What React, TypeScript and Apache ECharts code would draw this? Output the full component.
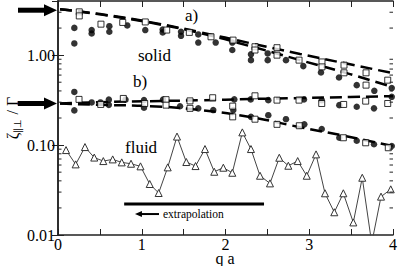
import React, { useEffect, useRef } from "react";
import * as echarts from "echarts";

const FONT = '"Liberation Serif", serif';

// fluid (open triangles)
const fluidQ = [0.096, 0.211, 0.322, 0.433, 0.541, 0.653, 0.761, 0.872, 0.985, 1.095, 1.202, 1.31, 1.421, 1.532, 1.642, 1.755, 1.866, 1.974, 2.081, 2.201, 2.304, 2.412, 2.531, 2.642, 2.75, 2.862, 2.97, 3.081, 3.188, 3.299, 3.407, 3.526, 3.633, 3.746, 3.857, 3.973];
const fluidV = [0.088, 0.061, 0.095, 0.0726, 0.0664, 0.0693, 0.0642, 0.062, 0.058, 0.0369, 0.0293, 0.0565, 0.1243, 0.0648, 0.0584, 0.0903, 0.0505, 0.056, 0.0492, 0.1384, 0.0903, 0.0456, 0.0375, 0.0723, 0.0589, 0.0664, 0.0456, 0.0788, 0.0291, 0.0179, 0.0291, 0.0138, 0.0433, 0.0081, 0.0267, 0.0322];

// panel a) solid circles
const circlesA = [
  [0.195, 2.01], [0.195, 1.35], [0.402, 1.9], [0.402, 1.74], [0.613, 2.1], [0.613, 1.82], [0.827, 2.14], [1.042, 1.9],
  [1.25, 1.93], [1.25, 1.79], [1.469, 1.82], [1.469, 1.64], [1.675, 1.7], [1.675, 1.38], [1.883, 1.38], [2.081, 1.38],
  [2.081, 1.14], [2.304, 1.02], [2.304, 0.88], [2.504, 1.045], [2.504, 0.88], [2.722, 0.88], [2.929, 0.755], [3.14, 0.643],
  [3.355, 0.565], [3.567, 0.464], [3.777, 0.401], [3.985, 0.43],
];
// panel a) open squares
const squaresA = [
  [0.254, 3.03], [0.254, 2.73], [0.513, 2.21], [0.773, 2.31], [1.042, 2.34], [1.298, 1.9], [1.568, 1.79], [1.827, 1.6],
  [2.09, 1.47], [2.352, 1.24], [2.352, 1.14], [2.615, 1.21], [2.615, 1.0], [2.878, 0.88], [3.152, 0.84], [3.152, 0.741],
  [3.415, 0.774], [3.415, 0.636], [3.678, 0.636], [3.678, 0.464], [3.937, 0.527],
];
// panel b) solid circles
const circlesB = [
  [0.195, 0.39], [0.195, 0.243], [0.402, 0.298], [0.507, 0.298], [0.607, 0.32], [0.607, 0.28], [0.806, 0.32], [1.027, 0.316],
  [1.027, 0.26], [1.254, 0.32], [1.457, 0.27], [1.675, 0.256], [1.854, 0.245], [2.093, 0.245], [2.105, 0.322], [2.301, 0.322],
  [2.304, 0.206], [2.511, 0.316], [2.511, 0.215], [2.722, 0.194], [2.937, 0.322], [2.941, 0.17], [3.149, 0.316], [3.149, 0.151],
  [3.359, 0.278], [3.359, 0.1206], [3.567, 0.267], [3.567, 0.1117], [3.773, 0.256], [3.773, 0.102], [3.985, 0.344], [3.985, 0.0975],
];
// panel b) open squares
const squaresB = [
  [0.251, 0.322], [0.51, 0.283], [0.78, 0.33], [1.035, 0.29], [1.29, 0.32], [1.29, 0.278], [1.576, 0.31], [1.576, 0.256],
  [1.847, 0.336], [2.086, 0.271], [2.086, 0.206], [2.352, 0.353], [2.352, 0.194], [2.615, 0.316], [2.615, 0.17], [2.878, 0.316],
  [2.881, 0.164], [3.149, 0.29], [3.411, 0.283], [3.407, 0.1206], [3.674, 0.308], [3.674, 0.106], [3.937, 0.29], [3.944, 0.0934],
];

// dashed theory curves
const curveQ = [0.024, 0.502, 1.099, 1.696, 2.293, 2.89, 3.487, 4.0];
const curveA1 = [3.24, 2.86, 2.33, 1.8, 1.36, 1.03, 0.79, 0.631];
const curveA2 = [3.24, 2.84, 2.3, 1.76, 1.26, 0.88, 0.615, 0.44];
const curveB1 = [0.29, 0.3, 0.308, 0.315, 0.325, 0.333, 0.342, 0.35];
const curveB2 = [0.29, 0.28, 0.271, 0.245, 0.205, 0.158, 0.123, 0.0975];

// arrows marking the limits at q -> 0
const limitArrows = [3.16, 0.29];
// extrapolation bar and arrow
const extrapBar = [[0.79, 0.0221], [2.46, 0.0221]];
const extrapArrow = [1.206, 0.0171, 0.919];

const yMajorLabels = [0.01, 0.1, 1];
const yMinorTicks = [0.02, 0.03, 0.04, 0.05, 0.06, 0.07, 0.08, 0.09, 0.2, 0.3, 0.4, 0.5, 0.6, 0.7, 0.8, 0.9, 2, 3];

const zip = (xs: number[], ys: number[]) => xs.map((x, i) => [x, ys[i]]);

export default function App() {
  const ref = useRef<HTMLDivElement>(null);
  useEffect(() => {
    if (!ref.current) return;
    const chart = echarts.init(ref.current, undefined, { renderer: "svg" });
    const axisColor = "#222";
    const dashed = (data: number[][]) => ({
      type: "line",
      data,
      smooth: true,
      symbol: "none",
      lineStyle: { color: "#000", width: 2.5, type: [12, 6] },
      z: 2,
    });
    const option: any = {
      animation: false,
      backgroundColor: "#fff",
      grid: { left: 58, right: 6, top: 1, bottom: 31, outerBoundsMode: "none", containLabel: false },
      xAxis: [
        {
          type: "value",
          min: 0,
          max: 4,
          interval: 1,
          position: "bottom",
          axisLine: { lineStyle: { color: axisColor, width: 1.5 } },
          axisTick: { inside: true, length: 6, lineStyle: { color: axisColor } },
          minorTick: { show: true, splitNumber: 2, length: 6, lineStyle: { color: axisColor } },
          splitLine: { show: false },
          axisLabel: { color: "#000", fontFamily: FONT, fontSize: 16, lineHeight: 13, margin: 3 },
        },
        {
          type: "value",
          min: 0,
          max: 4,
          interval: 1,
          position: "top",
          axisLine: { lineStyle: { color: axisColor, width: 1.5 } },
          axisTick: { inside: true, length: 6, lineStyle: { color: axisColor } },
          minorTick: { show: true, splitNumber: 2, length: 6, lineStyle: { color: axisColor } },
          splitLine: { show: false },
          axisLabel: { show: false },
        },
      ],
      yAxis: [
        {
          type: "log",
          min: 0.01,
          max: 4,
          position: "left",
          axisLine: { show: true, lineStyle: { color: axisColor, width: 1.5 } },
          axisTick: { inside: true, length: 6, lineStyle: { color: axisColor } },
          splitLine: { show: false },
          axisLabel: {
            color: "#000",
            fontFamily: FONT,
            fontSize: 16,
            margin: 3,
            showMaxLabel: false,
            formatter: (v: number) => {
              const hit = yMajorLabels.find((m) => Math.abs(m - v) / m < 1e-6);
              return hit !== undefined ? hit.toFixed(2) : "";
            },
          },
        },
        {
          type: "log",
          min: 0.01,
          max: 4,
          position: "right",
          axisLine: { show: true, lineStyle: { color: axisColor, width: 1.5 } },
          axisTick: { inside: true, length: 6, lineStyle: { color: axisColor } },
          splitLine: { show: false },
          axisLabel: { show: false },
        },
      ],
      series: [
        dashed(zip(curveQ, curveA1)),
        dashed(zip(curveQ, curveA2)),
        dashed(zip(curveQ, curveB1)),
        dashed(zip(curveQ, curveB2)),
        {
          type: "line",
          data: zip(fluidQ, fluidV),
          symbol: "triangle",
          symbolSize: 7,
          itemStyle: { color: "#fff", borderColor: "#333", borderWidth: 1 },
          lineStyle: { color: "#444", width: 1 },
          clip: true,
          z: 3,
        },
        {
          type: "line",
          data: extrapBar,
          symbol: "none",
          lineStyle: { color: "#000", width: 3 },
          z: 3,
        },
        {
          type: "scatter",
          data: circlesA.concat(circlesB),
          symbol: "circle",
          symbolSize: 6.5,
          itemStyle: { color: "#000" },
          z: 4,
        },
        {
          type: "scatter",
          data: squaresA.concat(squaresB),
          symbol: "rect",
          symbolSize: 6,
          itemStyle: { color: "#fff", borderColor: "#000", borderWidth: 1 },
          z: 5,
        },
        {
          type: "custom",
          clip: false,
          data: yMinorTicks.map((v) => [0, v]),
          encode: { x: 0, y: 1 },
          renderItem: (params: any, api: any) => {
            const v = api.value(1);
            const l = api.coord([0, v]);
            const r = api.coord([4, v]);
            return {
              type: "group",
              children: [
                { type: "line", shape: { x1: l[0], y1: l[1], x2: l[0] + 3.5, y2: l[1] }, style: { stroke: axisColor, lineWidth: 1 } },
                { type: "line", shape: { x1: r[0] - 3.5, y1: r[1], x2: r[0], y2: r[1] }, style: { stroke: axisColor, lineWidth: 1 } },
              ],
            };
          },
          z: 6,
        },
        {
          type: "custom",
          clip: false,
          data: limitArrows.map((v) => [0, v]),
          encode: { x: 0, y: 1 },
          renderItem: (params: any, api: any) => {
            const p = api.coord([0, api.value(1)]);
            return {
              type: "group",
              children: [
                { type: "rect", shape: { x: p[0] - 40, y: p[1] - 2.5, width: 27, height: 5 }, style: { fill: "#000" } },
                {
                  type: "polygon",
                  shape: { points: [[p[0] - 14, p[1] - 6], [p[0] - 1, p[1]], [p[0] - 14, p[1] + 6]] },
                  style: { fill: "#000" },
                },
              ],
            };
          },
          z: 6,
        },
        {
          type: "custom",
          clip: false,
          data: [extrapArrow],
          encode: { x: 0, y: 1 },
          renderItem: (params: any, api: any) => {
            const p0 = api.coord([api.value(0), api.value(1)]);
            const p1 = api.coord([api.value(2), api.value(1)]);
            return {
              type: "group",
              children: [
                { type: "line", shape: { x1: p0[0], y1: p0[1], x2: p1[0] + 6, y2: p1[1] }, style: { stroke: "#000", lineWidth: 2 } },
                {
                  type: "polygon",
                  shape: { points: [[p1[0] + 7, p1[1] - 3], [p1[0], p1[1]], [p1[0] + 7, p1[1] + 3]] },
                  style: { fill: "#000" },
                },
              ],
            };
          },
          z: 6,
        },
      ],
      graphic: [
        { type: "text", left: 185, top: 7, style: { text: "a)", font: `17px ${FONT}`, fill: "#000" } },
        { type: "text", left: 138, top: 47, style: { text: "solid", font: `17px ${FONT}`, fill: "#000" } },
        { type: "text", left: 133, top: 73, style: { text: "b)", font: `17px ${FONT}`, fill: "#000" } },
        { type: "text", left: 125, top: 139, style: { text: "fluid", font: `17px ${FONT}`, fill: "#000" } },
        { type: "text", left: 163, top: 208, style: { text: "extrapolation", font: `11.5px ${FONT}`, fill: "#000" } },
        {
          type: "text",
          x: 225,
          y: 258,
          style: { text: "q a", font: `16px ${FONT}`, lineHeight: 12, fill: "#000", textAlign: "center", textVerticalAlign: "middle" },
        },
        {
          type: "text",
          x: 12,
          y: 118,
          rotation: Math.PI / 2,
          style: {
            text: "{m|ζ}{s|∥⊥}{m| / Γ}",
            textAlign: "center",
            textVerticalAlign: "middle",
            fill: "#000",
            rich: {
              m: { fontFamily: FONT, fontSize: 16, fill: "#000", lineHeight: 20 },
              s: { fontFamily: FONT, fontSize: 10, fill: "#000", verticalAlign: "bottom", lineHeight: 20, padding: [6, 0, 0, 0] },
            },
          },
        },
      ],
    };
    chart.setOption(option);
    return () => chart.dispose();
  }, []);
  return <div ref={ref} style={{ position: "fixed", left: 0, top: 0, width: 399, height: 266 }} />;
}
